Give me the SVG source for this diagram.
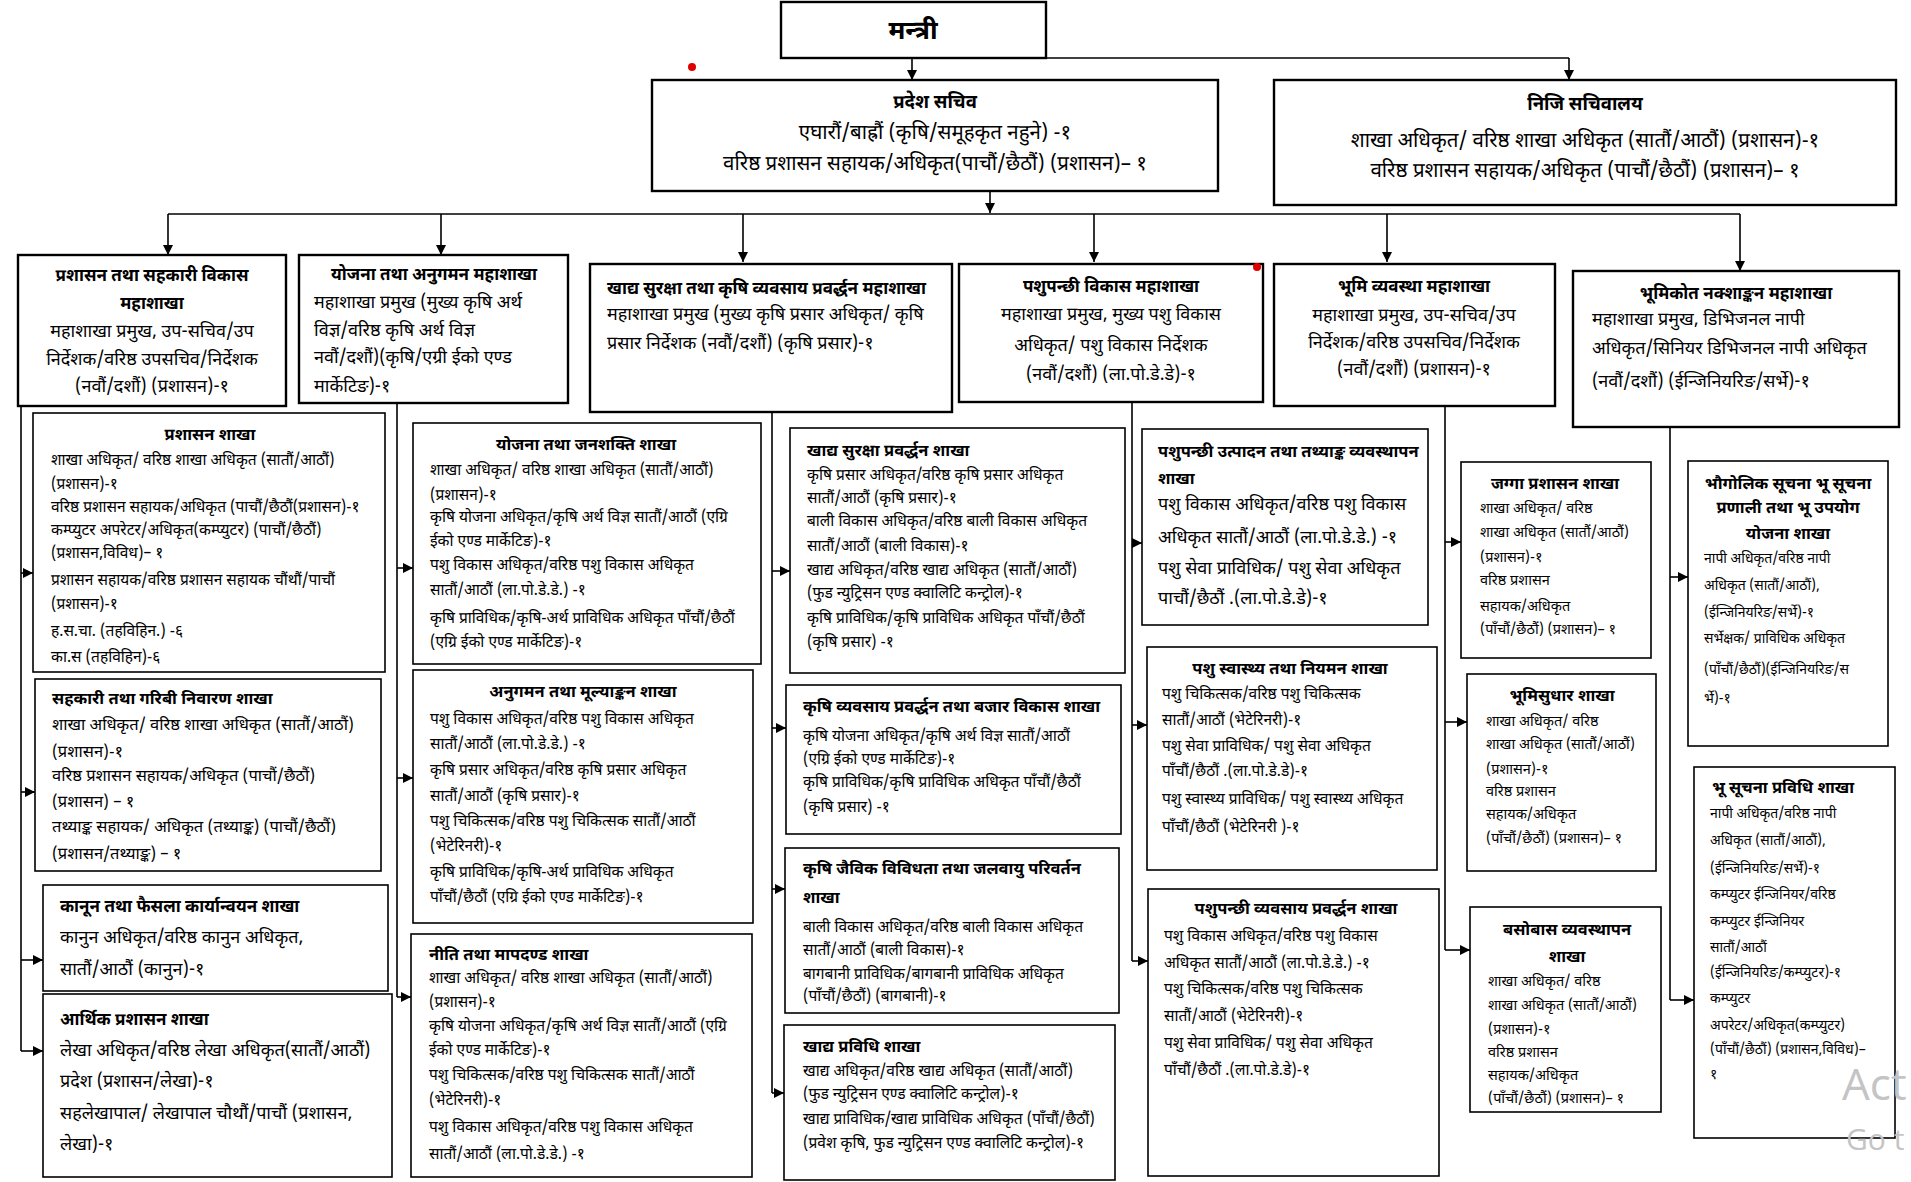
<svg xmlns="http://www.w3.org/2000/svg" width="1911" height="1182" viewBox="0 0 1911 1182">
<defs>
<marker id="ah" viewBox="0 0 10 10" refX="10" refY="5" markerWidth="10" markerHeight="10" markerUnits="userSpaceOnUse" orient="auto"><path d="M0,0 L10,5 L0,10 z" fill="#000"/></marker>
<style>
.b{fill:#fff;stroke:#000;stroke-width:1.6}
.b2{fill:#fff;stroke:#000;stroke-width:2.4}
text{font-family:'Noto Sans Devanagari','Lohit Devanagari','Kalimati','Mangal','FreeSans','Noto Sans','DejaVu Sans',sans-serif;fill:#000;font-size:15.5px}
.t{font-weight:bold;font-size:16.5px}
.t2{font-weight:bold;font-size:17px}
.tt{font-weight:bold;font-size:18.5px}
.c{text-anchor:middle}
.m{font-size:18px}
.top{font-size:20.5px}
.p{font-size:16.5px}
.s{font-size:14.5px}
.s6{font-size:14px}
.cn path{fill:none;stroke:#000;stroke-width:1.6}
.ar{marker-end:url(#ah)}
</style>
</defs>
<rect width="1911" height="1182" fill="#fff"/>

<g class="cn" id="connectors">
<path d="M912,58 H1569"/>
<path class="ar" d="M912,58 V80"/>
<path class="ar" d="M1569,58 V80"/>
<path class="ar" d="M990,191 V213"/>
<path d="M168,214 H1740"/>
<path class="ar" d="M168,214 V255"/>
<path class="ar" d="M441,214 V255"/>
<path class="ar" d="M743,214 V262"/>
<path class="ar" d="M1094,214 V262"/>
<path class="ar" d="M1387,214 V262"/>
<path class="ar" d="M1740,214 V271"/>
<path d="M21,406 V1051"/>
<path class="ar" d="M21,573 H33"/>
<path class="ar" d="M21,792 H35"/>
<path class="ar" d="M21,960 H43"/>
<path class="ar" d="M21,1051 H43"/>
<path d="M397,403 V997"/>
<path class="ar" d="M397,568 H413"/>
<path class="ar" d="M397,778 H413"/>
<path class="ar" d="M397,997 H411"/>
<path d="M772,412 V1093"/>
<path class="ar" d="M772,571 H790"/>
<path class="ar" d="M772,728 H786"/>
<path class="ar" d="M772,889 H785"/>
<path class="ar" d="M772,1093 H784"/>
<path d="M1132,402 V961"/>
<path class="ar" d="M1132,543 H1142"/>
<path class="ar" d="M1132,725 H1147"/>
<path class="ar" d="M1132,961 H1148"/>
<path d="M1445,406 V950"/>
<path class="ar" d="M1445,542 H1461"/>
<path class="ar" d="M1445,722 H1467"/>
<path class="ar" d="M1445,950 H1470"/>
<path d="M1670,427 V1000"/>
<path class="ar" d="M1670,577 H1688"/>
<path class="ar" d="M1670,1000 H1694"/>
</g>

<g id="n-mantri"><rect class="b2" x="781" y="2" width="265" height="56"/><text class="t c" x="913" y="39" style="font-size:26px">मन्त्री</text></g>

<g id="n-pradesh-sachiv"><rect class="b2" x="652" y="80" width="566" height="111"/>
<text class="tt c" x="935" y="108">प्रदेश सचिव</text>
<text class="c top" x="935" y="139">एघारौं/बाह्रौं (कृषि/समूहकृत नहुने) -१</text>
<text class="c top" x="935" y="170">वरिष्ठ प्रशासन सहायक/अधिकृत(पाचौं/छैठौं) (प्रशासन)– १</text></g>

<g id="n-niji"><rect class="b2" x="1274" y="80" width="622" height="125"/>
<text class="tt c" x="1585" y="110">निजि सचिवालय</text>
<text class="c top" x="1585" y="147">शाखा अधिकृत/ वरिष्ठ शाखा अधिकृत (सातौं/आठौं) (प्रशासन)-१</text>
<text class="c top" x="1585" y="177">वरिष्ठ प्रशासन सहायक/अधिकृत (पाचौं/छैठौं) (प्रशासन)– १</text></g>

<g id="n-b1"><rect class="b2" x="18" y="255" width="268" height="151"/>
<text class="t2 c" x="152" y="281">प्रशासन तथा सहकारी विकास</text>
<text class="t2 c" x="152" y="309">महाशाखा</text>
<text class="c m" x="152" y="337">महाशाखा प्रमुख, उप-सचिव/उप</text>
<text class="c m" x="152" y="365">निर्देशक/वरिष्ठ उपसचिव/निर्देशक</text>
<text class="c m" x="152" y="392">(नवौं/दशौं) (प्रशासन)-१</text></g>

<g id="n-b2"><rect class="b2" x="299" y="255" width="269" height="148"/>
<text class="t2 c" x="434" y="280">योजना तथा अनुगमन महाशाखा</text>
<text class="m" x="314" y="308">महाशाखा प्रमुख (मुख्य कृषि अर्थ</text>
<text class="m" x="314" y="336">विज्ञ/वरिष्ठ कृषि अर्थ विज्ञ</text>
<text class="m" x="314" y="363">नवौं/दशौं)(कृषि/एग्री ईको एण्ड</text>
<text class="m" x="314" y="392">मार्केटिङ)-१</text></g>

<g id="n-b3"><rect class="b2" x="590" y="264" width="362" height="148"/>
<text class="t2" x="607" y="294">खाद्य सुरक्षा तथा कृषि व्यवसाय प्रवर्द्धन महाशाखा</text>
<text class="m" x="607" y="320">महाशाखा प्रमुख (मुख्य कृषि प्रसार अधिकृत/ कृषि</text>
<text class="m" x="607" y="349">प्रसार निर्देशक (नवौं/दशौं) (कृषि प्रसार)-१</text></g>

<g id="n-b4"><rect class="b2" x="959" y="264" width="304" height="138"/>
<text class="t2 c" x="1111" y="292">पशुपन्छी  विकास महाशाखा</text>
<text class="c m" x="1111" y="320">महाशाखा प्रमुख, मुख्य पशु विकास</text>
<text class="c m" x="1111" y="351">अधिकृत/ पशु विकास निर्देशक</text>
<text class="c m" x="1111" y="380">(नवौं/दशौं) (ला.पो.डे.डे)-१</text></g>

<g id="n-b5"><rect class="b2" x="1274" y="264" width="281" height="142"/>
<text class="t2 c" x="1414" y="292">भूमि व्यवस्था महाशाखा</text>
<text class="c m" x="1414" y="321">महाशाखा प्रमुख, उप-सचिव/उप</text>
<text class="c m" x="1414" y="348">निर्देशक/वरिष्ठ उपसचिव/निर्देशक</text>
<text class="c m" x="1414" y="375">(नवौं/दशौं) (प्रशासन)-१</text></g>

<g id="n-b6"><rect class="b2" x="1573" y="271" width="326" height="156"/>
<text class="t2 c" x="1736" y="299">भूमिकोत नक्शाङ्कन महाशाखा</text>
<text class="m" x="1592" y="325">महाशाखा प्रमुख, डिभिजनल नापी</text>
<text class="m" x="1592" y="354">अधिकृत/सिनियर डिभिजनल नापी अधिकृत</text>
<text class="m" x="1592" y="387">(नवौं/दशौं) (ईन्जिनियरिङ/सर्भे)-१</text></g>

<g id="n-c1a"><rect class="b" x="33" y="413" width="352" height="259"/>
<text class="t c" x="210" y="440">प्रशासन शाखा</text>
<text x="51" y="465">शाखा अधिकृत/ वरिष्ठ शाखा अधिकृत (सातौं/आठौं)</text>
<text x="51" y="489">(प्रशासन)-१</text>
<text x="51" y="512">वरिष्ठ प्रशासन सहायक/अधिकृत (पाचौं/छैठौं(प्रशासन)-१</text>
<text x="51" y="535">कम्प्युटर अपरेटर/अधिकृत(कम्प्युटर) (पाचौं/छैठौं)</text>
<text x="51" y="558">(प्रशासन,विविध)– १</text>
<text x="51" y="585">प्रशासन सहायक/वरिष्ठ प्रशासन सहायक चौंथौं/पाचौं</text>
<text x="51" y="609">(प्रशासन)-१</text>
<text x="51" y="636">ह.स.चा. (तहविहिन.) -६</text>
<text x="51" y="662">का.स (तहविहिन)-६</text></g>

<g id="n-c1b"><rect class="b" x="35" y="679" width="346" height="192"/>
<text class="t" x="52" y="704">सहकारी तथा गरिबी निवारण शाखा</text>
<text class="p" x="52" y="730">शाखा अधिकृत/ वरिष्ठ शाखा अधिकृत (सातौं/आठौं)</text>
<text class="p" x="52" y="757">(प्रशासन)-१</text>
<text class="p" x="52" y="781">वरिष्ठ प्रशासन सहायक/अधिकृत (पाचौं/छैठौं)</text>
<text class="p" x="52" y="807">(प्रशासन) – १</text>
<text class="p" x="52" y="832">तथ्याङ्क सहायक/ अधिकृत (तथ्याङ्क) (पाचौं/छैठौं)</text>
<text class="p" x="52" y="859">(प्रशासन/तथ्याङ्क) – १</text></g>

<g id="n-c1c"><rect class="b" x="43" y="885" width="345" height="106"/>
<text class="t2" x="60" y="912">कानून तथा फैसला कार्यान्वयन शाखा</text>
<text class="m" x="60" y="943">कानुन अधिकृत/वरिष्ठ कानुन अधिकृत,</text>
<text class="m" x="60" y="975">सातौं/आठौं (कानुन)-१</text></g>

<g id="n-c1d"><rect class="b" x="43" y="994" width="349" height="183"/>
<text class="t2" x="60" y="1025">आर्थिक प्रशासन शाखा</text>
<text class="m" x="60" y="1056">लेखा अधिकृत/वरिष्ठ लेखा अधिकृत(सातौं/आठौं)</text>
<text class="m" x="60" y="1087">प्रदेश (प्रशासन/लेखा)-१</text>
<text class="m" x="60" y="1119">सहलेखापाल/ लेखापाल चौथौं/पाचौं (प्रशासन,</text>
<text class="m" x="60" y="1150">लेखा)-१</text></g>

<g id="n-c2a"><rect class="b" x="413" y="423" width="348" height="241"/>
<text class="t c" x="586" y="450">योजना तथा जनशक्ति शाखा</text>
<text x="430" y="475">शाखा अधिकृत/ वरिष्ठ शाखा अधिकृत (सातौं/आठौं)</text>
<text x="430" y="500">(प्रशासन)-१</text>
<text x="430" y="522">कृषि योजना अधिकृत/कृषि अर्थ विज्ञ सातौं/आठौं (एग्रि</text>
<text x="430" y="546">ईको एण्ड मार्केटिङ)-१</text>
<text x="430" y="570">पशु विकास अधिकृत/वरिष्ठ पशु विकास अधिकृत</text>
<text x="430" y="595">सातौं/आठौं (ला.पो.डे.डे.) -१</text>
<text x="430" y="623">कृषि प्राविधिक/कृषि-अर्थ प्राविधिक अधिकृत  पाँचौं/छैठौं</text>
<text x="430" y="647">(एग्रि ईको एण्ड मार्केटिङ)-१</text></g>

<g id="n-c2b"><rect class="b" x="413" y="670" width="340" height="253"/>
<text class="t c" x="583" y="697">अनुगमन तथा मूल्याङ्कन शाखा</text>
<text x="430" y="724">पशु विकास अधिकृत/वरिष्ठ पशु विकास अधिकृत</text>
<text x="430" y="749">सातौं/आठौं (ला.पो.डे.डे.) -१</text>
<text x="430" y="775">कृषि प्रसार अधिकृत/वरिष्ठ कृषि प्रसार अधिकृत</text>
<text x="430" y="801">सातौं/आठौं  (कृषि प्रसार)-१</text>
<text x="430" y="826">पशु चिकित्सक/वरिष्ठ पशु चिकित्सक सातौं/आठौं</text>
<text x="430" y="851">(भेटेरिनरी)-१</text>
<text x="430" y="877">कृषि प्राविधिक/कृषि-अर्थ प्राविधिक अधिकृत</text>
<text x="430" y="902">पाँचौं/छैठौं (एग्रि ईको एण्ड मार्केटिङ)-१</text></g>

<g id="n-c2c"><rect class="b" x="411" y="934" width="341" height="243"/>
<text class="t" x="429" y="960">नीति तथा मापदण्ड शाखा</text>
<text x="429" y="983">शाखा अधिकृत/ वरिष्ठ शाखा अधिकृत (सातौं/आठौं)</text>
<text x="429" y="1007">(प्रशासन)-१</text>
<text x="429" y="1031">कृषि योजना अधिकृत/कृषि अर्थ विज्ञ सातौं/आठौं (एग्रि</text>
<text x="429" y="1055">ईको एण्ड मार्केटिङ)-१</text>
<text x="429" y="1080">पशु चिकित्सक/वरिष्ठ पशु चिकित्सक सातौं/आठौं</text>
<text x="429" y="1105">(भेटेरिनरी)-१</text>
<text x="429" y="1132">पशु विकास अधिकृत/वरिष्ठ पशु विकास अधिकृत</text>
<text x="429" y="1159">सातौं/आठौं (ला.पो.डे.डे.) -१</text></g>

<g id="n-c3a"><rect class="b" x="790" y="428" width="335" height="245"/>
<text class="t" x="807" y="456">खाद्य सुरक्षा प्रवर्द्धन शाखा</text>
<text x="807" y="480">कृषि प्रसार अधिकृत/वरिष्ठ कृषि प्रसार अधिकृत</text>
<text x="807" y="503">सातौं/आठौं  (कृषि प्रसार)-१</text>
<text x="807" y="526">बाली विकास अधिकृत/वरिष्ठ बाली विकास अधिकृत</text>
<text x="807" y="551">सातौं/आठौं (बाली विकास)-१</text>
<text x="807" y="575">खाद्य अधिकृत/वरिष्ठ खाद्य अधिकृत (सातौं/आठौं)</text>
<text x="807" y="598">(फुड न्युट्रिसन एण्ड क्वालिटि कन्ट्रोल)-१</text>
<text x="807" y="623">कृषि प्राविधिक/कृषि प्राविधिक अधिकृत पाँचौं/छैठौं</text>
<text x="807" y="647">(कृषि प्रसार)  -१</text></g>

<g id="n-c3b"><rect class="b" x="786" y="685" width="335" height="149"/>
<text class="t" x="803" y="712">कृषि व्यवसाय प्रवर्द्धन तथा बजार विकास शाखा</text>
<text x="803" y="741">कृषि योजना अधिकृत/कृषि अर्थ विज्ञ सातौं/आठौं</text>
<text x="803" y="764">(एग्रि ईको एण्ड मार्केटिङ)-१</text>
<text x="803" y="787">कृषि प्राविधिक/कृषि प्राविधिक अधिकृत पाँचौं/छैठौं</text>
<text x="803" y="812">(कृषि प्रसार)  -१</text></g>

<g id="n-c3c"><rect class="b" x="785" y="848" width="334" height="165"/>
<text class="t" x="803" y="874">कृषि जैविक विविधता तथा जलवायु परिवर्तन</text>
<text class="t" x="803" y="903">शाखा</text>
<text x="803" y="932">बाली विकास अधिकृत/वरिष्ठ बाली विकास अधिकृत</text>
<text x="803" y="955">सातौं/आठौं (बाली विकास)-१</text>
<text x="803" y="979">बागबानी प्राविधिक/बागबानी प्राविधिक अधिकृत</text>
<text x="803" y="1001">(पाँचौं/छैठौं)  (बागबानी)-१</text></g>

<g id="n-c3d"><rect class="b" x="784" y="1025" width="331" height="155"/>
<text class="t" x="803" y="1052">खाद्य प्रविधि शाखा</text>
<text x="803" y="1076">खाद्य अधिकृत/वरिष्ठ खाद्य अधिकृत (सातौं/आठौं)</text>
<text x="803" y="1099">(फुड न्युट्रिसन एण्ड क्वालिटि कन्ट्रोल)-१</text>
<text x="803" y="1124">खाद्य प्राविधिक/खाद्य प्राविधिक अधिकृत (पाँचौं/छैठौं)</text>
<text x="803" y="1148">(प्रवेश कृषि, फुड न्युट्रिसन एण्ड क्वालिटि कन्ट्रोल)-१</text></g>

<g id="n-c4a"><rect class="b" x="1142" y="429" width="286" height="196"/>
<text class="t" x="1158" y="457">पशुपन्छी उत्पादन तथा तथ्याङ्क व्यवस्थापन</text>
<text class="t" x="1158" y="484">शाखा</text>
<text class="m" x="1158" y="510">पशु विकास अधिकृत/वरिष्ठ पशु विकास</text>
<text class="m" x="1158" y="543">अधिकृत सातौं/आठौं (ला.पो.डे.डे.) -१</text>
<text class="m" x="1158" y="574">पशु सेवा प्राविधिक/ पशु सेवा अधिकृत</text>
<text class="m" x="1158" y="604">पाचौं/छैठौं .(ला.पो.डे.डे)-१</text></g>

<g id="n-c4b"><rect class="b" x="1147" y="647" width="290" height="223"/>
<text class="t c" x="1290" y="674">पशु स्वास्थ्य तथा नियमन शाखा</text>
<text x="1162" y="699">पशु चिकित्सक/वरिष्ठ पशु चिकित्सक</text>
<text x="1162" y="725">सातौं/आठौं (भेटेरिनरी)-१</text>
<text x="1162" y="751">पशु सेवा प्राविधिक/ पशु सेवा अधिकृत</text>
<text x="1162" y="776">पाँचौं/छैठौं .(ला.पो.डे.डे)-१</text>
<text x="1162" y="804">पशु स्वास्थ्य प्राविधिक/ पशु स्वास्थ्य अधिकृत</text>
<text x="1162" y="832">पाँचौं/छैठौं (भेटेरिनरी )-१</text></g>

<g id="n-c4c"><rect class="b" x="1148" y="889" width="291" height="287"/>
<text class="t c" x="1296" y="914">पशुपन्छी व्यवसाय प्रवर्द्धन शाखा</text>
<text x="1164" y="941">पशु विकास अधिकृत/वरिष्ठ पशु विकास</text>
<text x="1164" y="968">अधिकृत सातौं/आठौं (ला.पो.डे.डे.) -१</text>
<text x="1164" y="994">पशु चिकित्सक/वरिष्ठ पशु चिकित्सक</text>
<text x="1164" y="1021">सातौं/आठौं (भेटेरिनरी)-१</text>
<text x="1164" y="1048">पशु सेवा प्राविधिक/ पशु सेवा अधिकृत</text>
<text x="1164" y="1075">पाँचौं/छैठौं .(ला.पो.डे.डे)-१</text></g>

<g id="n-c5a"><rect class="b" x="1461" y="462" width="190" height="196"/>
<text class="t c" x="1555" y="489">जग्गा प्रशासन शाखा</text>
<text class="s" x="1480" y="513">शाखा अधिकृत/ वरिष्ठ</text>
<text class="s" x="1480" y="537">शाखा अधिकृत (सातौं/आठौं)</text>
<text class="s" x="1480" y="562">(प्रशासन)-१</text>
<text class="s" x="1480" y="585">वरिष्ठ प्रशासन</text>
<text class="s" x="1480" y="611">सहायक/अधिकृत</text>
<text class="s" x="1480" y="634">(पाँचौं/छैठौं) (प्रशासन)– १</text></g>

<g id="n-c5b"><rect class="b" x="1467" y="674" width="189" height="197"/>
<text class="t c" x="1562" y="701">भूमिसुधार शाखा</text>
<text class="s" x="1486" y="726">शाखा अधिकृत/ वरिष्ठ</text>
<text class="s" x="1486" y="749">शाखा अधिकृत (सातौं/आठौं)</text>
<text class="s" x="1486" y="774">(प्रशासन)-१</text>
<text class="s" x="1486" y="796">वरिष्ठ प्रशासन</text>
<text class="s" x="1486" y="819">सहायक/अधिकृत</text>
<text class="s" x="1486" y="843">(पाँचौं/छैठौं) (प्रशासन)– १</text></g>

<g id="n-c5c"><rect class="b" x="1470" y="907" width="191" height="205"/>
<text class="t c" x="1567" y="935">बसोबास व्यवस्थापन</text>
<text class="t c" x="1567" y="962">शाखा</text>
<text class="s" x="1488" y="986">शाखा अधिकृत/ वरिष्ठ</text>
<text class="s" x="1488" y="1010">शाखा अधिकृत (सातौं/आठौं)</text>
<text class="s" x="1488" y="1034">(प्रशासन)-१</text>
<text class="s" x="1488" y="1057">वरिष्ठ प्रशासन</text>
<text class="s" x="1488" y="1080">सहायक/अधिकृत</text>
<text class="s" x="1488" y="1103">(पाँचौं/छैठौं) (प्रशासन)– १</text></g>

<g id="n-c6a"><rect class="b" x="1688" y="461" width="200" height="285"/>
<text class="t c" x="1788" y="489">भौगोलिक सूचना भू सूचना</text>
<text class="t c" x="1788" y="513">प्रणाली तथा भू उपयोग</text>
<text class="t c" x="1788" y="539">योजना शाखा</text>
<text class="s6" x="1704" y="563">नापी अधिकृत/वरिष्ठ नापी</text>
<text class="s6" x="1704" y="590">अधिकृत (सातौं/आठौं),</text>
<text class="s6" x="1704" y="617">(ईन्जिनियरिङ/सर्भे)-१</text>
<text class="s6" x="1704" y="643">सर्भेक्षक/ प्राविधिक अधिकृत</text>
<text class="s6" x="1704" y="674">(पाँचौं/छैठौं)(ईन्जिनियरिङ/स</text>
<text class="s6" x="1704" y="703">र्भे)-१</text></g>

<g id="n-c6b"><rect class="b" x="1694" y="767" width="201" height="371"/>
<text class="t c" x="1783" y="793">भू सूचना प्रविधि शाखा</text>
<text class="s6" x="1710" y="818">नापी अधिकृत/वरिष्ठ नापी</text>
<text class="s6" x="1710" y="845">अधिकृत (सातौं/आठौं),</text>
<text class="s6" x="1710" y="873">(ईन्जिनियरिङ/सर्भे)-१</text>
<text class="s6" x="1710" y="899">कम्प्युटर ईन्जिनियर/वरिष्ठ</text>
<text class="s6" x="1710" y="926">कम्प्युटर ईन्जिनियर</text>
<text class="s6" x="1710" y="952">सातौं/आठौं</text>
<text class="s6" x="1710" y="977">(ईन्जिनियरिङ/कम्प्युटर)-१</text>
<text class="s6" x="1710" y="1003">कम्प्युटर</text>
<text class="s6" x="1710" y="1030">अपरेटर/अधिकृत(कम्प्युटर)</text>
<text class="s6" x="1710" y="1054">(पाँचौं/छैठौं) (प्रशासन,विविध)–</text>
<text class="s6" x="1710" y="1079">१</text></g>

<circle cx="692" cy="67" r="4" fill="#e00000"/>
<circle cx="1257" cy="267" r="4" fill="#e00000"/>
<text x="1842" y="1100" style="font-family:'Open Sans','Noto Sans',sans-serif;font-size:44px;fill:#c4c4c4">Act</text>
<text x="1846" y="1150" style="font-family:'Open Sans','Noto Sans',sans-serif;font-size:30px;fill:#c4c4c4">Go t</text>
</svg>
